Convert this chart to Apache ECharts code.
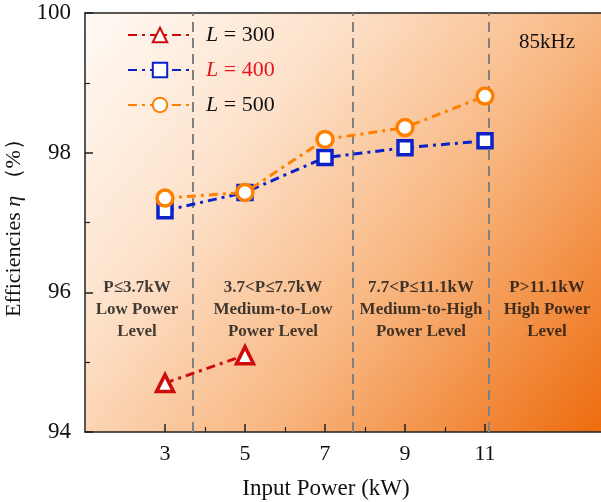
<!DOCTYPE html>
<html>
<head>
<meta charset="utf-8">
<script src="https://cdn.jsdelivr.net/npm/echarts@6/dist/echarts.min.js"></script>
<style>html,body{margin:0;padding:0;background:#fff;}#c{width:601px;height:502px;}</style>
</head>
<body>
<div id="c"></div>
<script>
// ---- data ----
var seriesNames = ['L = 300', 'L = 400', 'L = 500'];
var powerL300 = [3, 5];
var effL300 = [94.70, 95.10];
var powerL400 = [3, 5, 7, 9, 11];
var effL400 = [97.17, 97.43, 97.93, 98.07, 98.17];
var powerL500 = [3, 5, 7, 9, 11];
var effL500 = [97.35, 97.43, 98.19, 98.36, 98.81];
var boundaries = [3.7, 7.7, 11.1];
var regionCenters = [2.3, 5.7, 9.4, 12.55];
var regionLabels = [
  'P\u22643.7kW\nLow Power\nLevel',
  '3.7<P\u22647.7kW\nMedium-to-Low\nPower Level',
  '7.7<P\u226411.1kW\nMedium-to-High\nPower Level',
  'P>11.1kW\nHigh Power\nLevel'
];
var regionLabelY = 95.75;
var xMajorTicks = [3, 5, 7, 9, 11];
var xMinorTicks = [4, 6, 8, 10];
var freqText = '85kHz';

function pairs(xs, ys) { return xs.map(function (x, i) { return [x, ys[i]]; }); }

var serif = '"Liberation Serif", "DejaVu Serif", serif';
var dashDot = [9, 5, 3, 5];
var axisCol = '#222';

var chart = echarts.init(document.getElementById('c'), null, {renderer: 'canvas'});
chart.setOption({
  animation: false,
  backgroundColor: '#ffffff',
  title: {
    text: freqText, left: 514, top: 27,
    textStyle: {fontFamily: serif, fontWeight: 'normal', fontSize: 21, color: '#111'}
  },
  grid: {
    left: 85, top: 13, right: 0, bottom: 70,
    containLabel: false, outerBoundsMode: 'none',
    show: true, borderWidth: 0,
    backgroundColor: {
      type: 'linear', x: 0, y: 0, x2: 1, y2: 1,
      colorStops: [
        {offset: 0, color: '#fffaf6'},
        {offset: 0.3, color: '#fde2cb'},
        {offset: 0.6, color: '#f8b883'},
        {offset: 1, color: '#ed6c0e'}
      ]
    }
  },
  legend: {
    orient: 'vertical', left: 122, top: 19, itemGap: 13,
    itemWidth: 64, itemHeight: 18,
    data: seriesNames,
    formatter: function (n) {
      var v = n.split('= ')[1];
      if (v === '400') return '{ri|L}{r| = ' + v + '}';
      return '{i|L}{n| = ' + v + '}';
    },
    textStyle: {
      padding: [0, 0, 0, 9],
      rich: {
        i: {fontFamily: serif, fontStyle: 'italic', fontSize: 22, color: '#111'},
        n: {fontFamily: serif, fontSize: 22, color: '#111'},
        ri: {fontFamily: serif, fontStyle: 'italic', fontSize: 22, color: '#e8141e'},
        r: {fontFamily: serif, fontSize: 22, color: '#e8141e'}
      }
    }
  },
  xAxis: [
    {
      type: 'value', min: 1, max: 13.9, interval: 2,
      name: 'Input Power (kW)', nameLocation: 'middle', nameGap: 45,
      nameTextStyle: {fontFamily: serif, fontSize: 23, color: '#111', padding: [0, 34, 0, 0]},
      axisLine: {show: true, lineStyle: {color: axisCol, width: 1.5}},
      axisTick: {show: true, inside: true, length: 8, customValues: xMajorTicks, lineStyle: {color: axisCol, width: 1.5}},
      splitLine: {show: false},
      axisLabel: {fontFamily: serif, fontSize: 22, color: '#111', margin: 11, customValues: xMajorTicks}
    },
    {
      type: 'value', min: 1, max: 13.9, position: 'bottom',
      axisLine: {show: false},
      axisTick: {show: true, inside: true, length: 5, customValues: xMinorTicks, lineStyle: {color: axisCol, width: 1.2}},
      axisLabel: {show: false, customValues: xMinorTicks},
      splitLine: {show: false}
    },
    {
      type: 'value', min: 1, max: 13.9, position: 'top',
      axisLine: {show: true, lineStyle: {color: axisCol, width: 1.5}},
      axisTick: {show: false}, axisLabel: {show: false}, splitLine: {show: false}
    }
  ],
  yAxis: {
    type: 'value', min: 94, max: 100, interval: 2,
    name: 'Efficiencies {e|\u03b7} \uff08%\uff09', nameLocation: 'middle', nameGap: 48,
    nameTextStyle: {fontFamily: serif, fontSize: 22, color: '#111',
      rich: {e: {fontFamily: serif, fontStyle: 'italic', fontSize: 22, color: '#111'}}},
    axisLine: {show: true, lineStyle: {color: axisCol, width: 1.5}},
    axisTick: {show: true, inside: true, length: 8, lineStyle: {color: axisCol, width: 1.5}},
    minorTick: {show: true, splitNumber: 2, length: 5, lineStyle: {color: axisCol, width: 1.2}},
    splitLine: {show: false},
    axisLabel: {fontFamily: serif, fontSize: 23, color: '#111', margin: 14}
  },
  series: [
    {
      name: 'regions', type: 'scatter', symbolSize: 0, silent: true,
      data: regionCenters.map(function (x) { return [x, regionLabelY]; }),
      label: {
        show: true, position: 'inside',
        formatter: function (p) { return regionLabels[p.dataIndex]; },
        fontFamily: serif, fontWeight: 'bold', fontSize: 17, lineHeight: 22, color: '#111', align: 'center'
      },
      markLine: {
        silent: true, symbol: 'none', label: {show: false},
        lineStyle: {color: '#808080', type: [10, 6], width: 2},
        data: boundaries.map(function (b) { return {xAxis: b}; })
      },
      z: 1
    },
    {
      name: seriesNames[0], type: 'line', data: pairs(powerL300, effL300),
      symbol: 'triangle', symbolSize: 17,
      lineStyle: {color: '#d10a0a', width: 3, type: dashDot},
      itemStyle: {color: '#ffffff', borderColor: '#d10a0a', borderWidth: 3.5},
      z: 5
    },
    {
      name: seriesNames[1], type: 'line', data: pairs(powerL400, effL400),
      symbol: 'rect', symbolSize: 14,
      lineStyle: {color: '#0a22c8', width: 3, type: dashDot},
      itemStyle: {color: '#ffffff', borderColor: '#0a22c8', borderWidth: 3.5},
      z: 5
    },
    {
      name: seriesNames[2], type: 'line', data: pairs(powerL500, effL500),
      symbol: 'circle', symbolSize: 16,
      lineStyle: {color: '#ff8000', width: 3, type: dashDot},
      itemStyle: {color: '#ffffff', borderColor: '#ff8000', borderWidth: 3.5},
      z: 6
    }
  ]
});
</script>
</body>
</html>
